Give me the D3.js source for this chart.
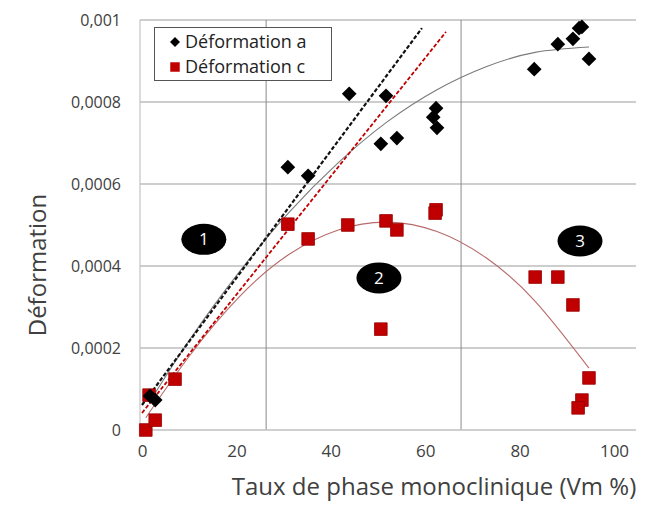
<!DOCTYPE html>
<html><head><meta charset="utf-8">
<script src="https://cdn.jsdelivr.net/npm/d3@7"></script>
<style>
html,body{margin:0;padding:0;background:#fff;}
svg{display:block;font-family:"Open Sans",sans-serif;}
</style></head>
<body>
<svg id="chart" width="657" height="506"></svg>
<script>
// ---------- data ----------
const seriesNames = ["Déformation a", "Déformation c"];
const xTicks = [0, 20, 40, 60, 80, 100];
const xTickLabels = ["0", "20", "40", "60", "80", "100"];
const yTicks = [0, 0.0002, 0.0004, 0.0006, 0.0008, 0.001];
const yTickLabels = ["0", "0,0002", "0,0004", "0,0006", "0,0008", "0,001"];

// Déformation a (black diamonds)
const aX = [1.7, 2.8, 30.9, 35.2, 43.9, 51.7, 50.6, 54.0, 62.3, 61.7, 62.5, 83.1, 88.1, 91.3, 92.6, 93.2, 94.7];
const aY = [0.000083, 0.000073, 0.000641, 0.00062, 0.00082, 0.000815, 0.000698, 0.000712, 0.000785, 0.000763, 0.000737, 0.00088, 0.000941, 0.000954, 0.00098, 0.000983, 0.000905];
// Déformation c (red squares)
const cX = [0.8, 2.8, 1.5, 7.0, 30.9, 35.2, 43.6, 51.7, 54.0, 62.3, 62.1, 50.6, 83.3, 88.1, 91.3, 94.7, 93.2, 92.4];
const cY = [0, 0.000024, 0.000085, 0.000124, 0.000502, 0.000466, 0.0005, 0.00051, 0.000488, 0.000537, 0.000529, 0.000246, 0.000373, 0.000373, 0.000305, 0.000127, 0.000073, 0.000054];

// trend curves
const aTrendX = [1.7, 10.2, 20.7, 31.1, 41.6, 52.0, 62.5, 72.9, 83.3, 94.7];
const aTrendY = [0.00007, 0.000222, 0.000387, 0.00053, 0.000652, 0.000752, 0.00083, 0.000886, 0.000921, 0.000934];
const cTrendX = [0.8, 10.2, 20.7, 31.1, 41.6, 52.0, 62.5, 72.9, 83.3, 94.7];
const cTrendY = [0.00003, 0.000183, 0.000326, 0.000428, 0.000488, 0.000507, 0.000484, 0.00042, 0.000314, 0.000151];
// dashed linear lines
const aLineX = [0, 59.3];
const aLineY = [0.000061, 0.00098];
const cLineX = [0, 64.4];
const cLineY = [0.0000415, 0.000971];

// zone separators and zone labels
const zoneLines = [26.3, 67.6];
const zoneLabels = ["1", "2", "3"];
const zoneLabelX = [13.1, 50.2, 92.8];
const zoneLabelY = [0.000465, 0.000371, 0.000461];

// ---------- drawing ----------
(function () {
const svg = d3.select("#chart");
svg.append("rect").attr("width", 657).attr("height", 506).attr("fill", "#fff");

const pL = 142, pR = 614, pT = 20, pB = 430, plotRight = 636, plotLeft = 140;
const x = d3.scaleLinear().domain([0, 100]).range([pL, pR]);
const y = d3.scaleLinear().domain([0, 0.001]).range([pB, pT]);

// horizontal gridlines
svg.append("g").selectAll("line").data(yTicks.slice(1)).join("line")
  .attr("x1", plotLeft).attr("x2", plotRight)
  .attr("y1", d => y(d)).attr("y2", d => y(d))
  .attr("stroke", "#bdbdbd").attr("stroke-width", 1.3);

// left axis line
svg.append("line").attr("x1", plotLeft).attr("x2", plotLeft).attr("y1", pT).attr("y2", pB)
  .attr("stroke", "#c8c8c8").attr("stroke-width", 1.3);

// zone vertical lines
svg.append("g").selectAll("line").data(zoneLines).join("line")
  .attr("x1", d => x(d)).attr("x2", d => x(d))
  .attr("y1", pT).attr("y2", pB)
  .attr("stroke", "#8a8a8a").attr("stroke-width", 1);

// x axis
const xAxis = d3.axisBottom(x).tickValues(xTicks).tickSize(0).tickPadding(15)
  .tickFormat((d, i) => xTickLabels[i]);
const gx = svg.append("g").attr("transform", `translate(0,${pB})`).call(xAxis);
gx.select(".domain").attr("stroke", "#c0c0c0").attr("stroke-width", 1.5)
  .attr("d", `M${plotLeft},0H${plotRight}`);
gx.selectAll("text").attr("font-size", 17).attr("fill", "#404040")
  .attr("font-family", "Open Sans, sans-serif");

// y axis
const yAxis = d3.axisLeft(y).tickValues(yTicks).tickSize(0).tickPadding(21)
  .tickFormat((d, i) => yTickLabels[i]);
const gy = svg.append("g").attr("transform", `translate(${pL},0)`).call(yAxis);
gy.select(".domain").remove();
gy.selectAll("text").attr("font-size", 16).attr("fill", "#404040")
  .attr("font-family", "Open Sans, sans-serif");

// axis titles
svg.append("text").attr("x", 434).attr("y", 495).attr("text-anchor", "middle")
  .attr("font-size", 24).attr("fill", "#404040").text("Taux de phase monoclinique (Vm %)");
svg.append("text").attr("transform", "translate(46,265) rotate(-90)").attr("text-anchor", "middle")
  .attr("font-size", 24).attr("fill", "#404040").text("Déformation");

// trend curves
const lineGen = d3.line().x(d => x(d[0])).y(d => y(d[1])).curve(d3.curveNatural);
const zip = (xs, ys) => xs.map((v, i) => [v, ys[i]]);

svg.append("path").attr("d", lineGen(zip(cTrendX, cTrendY)))
  .attr("fill", "none").attr("stroke", "#b86a6a").attr("stroke-width", 1.1);
svg.append("path").attr("d", lineGen(zip(aTrendX, aTrendY)))
  .attr("fill", "none").attr("stroke", "#7a7a7a").attr("stroke-width", 1.1);

const straight = d3.line().x(d => x(d[0])).y(d => y(d[1]));
svg.append("path").attr("d", straight(zip(cLineX, cLineY)))
  .attr("fill", "none").attr("stroke", "#c00000").attr("stroke-width", 1.8)
  .attr("stroke-dasharray", "4,2");
svg.append("path").attr("d", straight(zip(aLineX, aLineY)))
  .attr("fill", "none").attr("stroke", "#111").attr("stroke-width", 2.2)
  .attr("stroke-dasharray", "4,2");

// markers
const sq = d3.symbol().type(d3.symbolSquare).size(160);
const dia = d3.symbol().type(d3.symbolSquare).size(108);
svg.append("g").selectAll("path").data(zip(cX, cY)).join("path")
  .attr("d", sq).attr("transform", d => `translate(${x(d[0])},${y(d[1])})`)
  .attr("fill", "#c00000").attr("stroke", "#9a0000").attr("stroke-width", 0.8);
svg.append("g").selectAll("path").data(zip(aX, aY)).join("path")
  .attr("d", dia).attr("transform", d => `translate(${x(d[0])},${y(d[1])}) rotate(45)`)
  .attr("fill", "#000");

// zone labels
const zg = svg.append("g").selectAll("g").data(zoneLabels).join("g")
  .attr("transform", (d, i) => `translate(${x(zoneLabelX[i])},${y(zoneLabelY[i])})`);
zg.append("ellipse").attr("rx", 22.5).attr("ry", 15.5).attr("fill", "#000");
zg.append("text").attr("text-anchor", "middle").attr("dy", "0.36em")
  .attr("font-size", 17).attr("fill", "#fff").text(d => d);

// legend
const lg = svg.append("g");
lg.append("rect").attr("x", 154.5).attr("y", 27.5).attr("width", 177).attr("height", 53)
  .attr("fill", "#fff").attr("stroke", "#555").attr("stroke-width", 1);
const legendEntries = [
  {name: seriesNames[0], size: 50, rot: 45, color: "#000"},
  {name: seriesNames[1], size: 90, rot: 0, color: "#c00000"}
];
const le = lg.selectAll("g").data(legendEntries).join("g")
  .attr("transform", (d, i) => `translate(0,${42 + i * 25})`);
le.append("path").attr("d", d => d3.symbol().type(d3.symbolSquare).size(d.size)())
  .attr("transform", d => `translate(175,0) rotate(${d.rot})`).attr("fill", d => d.color);
le.append("text").attr("x", 185).attr("dy", "0.35em").attr("font-size", 18).attr("fill", "#222")
  .text(d => d.name);
})();
</script>
</body></html>
